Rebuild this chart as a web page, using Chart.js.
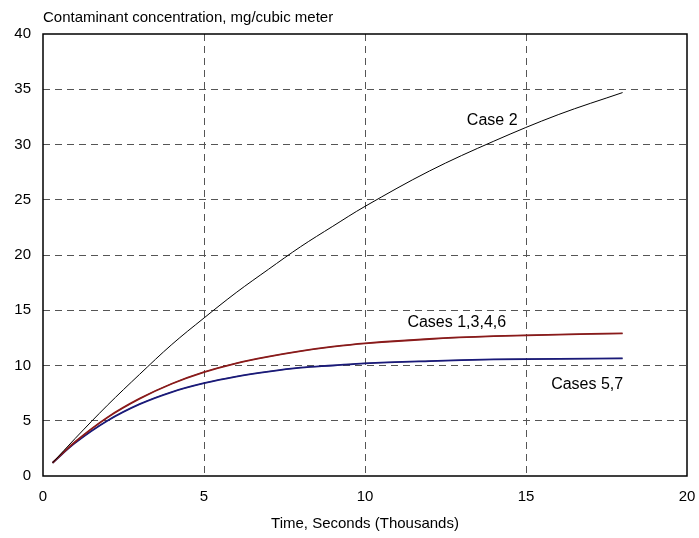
<!DOCTYPE html>
<html>
<head>
<meta charset="utf-8">
<script src="https://cdn.jsdelivr.net/npm/chart.js@4"></script>
<style>
  html, body { margin: 0; padding: 0; background: #fff; }
  #wrap { width: 699px; height: 538px; }
</style>
</head>
<body>
<div id="wrap"><canvas id="chart" width="699" height="538"></canvas></div>
<script>
// time, thousands of seconds
const times = [0.3, 1, 2, 3, 4, 5, 6, 7, 8, 9, 10, 12, 14, 16, 18];
// concentration, mg/cubic meter
const case2 = [1.2, 3.4, 6.4, 9.2, 11.9, 14.3, 16.6, 18.7, 20.75, 22.6, 24.4, 27.6, 30.3, 32.7, 34.7];
const cases1346 = [1.2, 3.1, 5.3, 7.0, 8.35, 9.4, 10.2, 10.8, 11.3, 11.7, 12.0, 12.4, 12.65, 12.8, 12.9];
const cases57 = [1.2, 3.0, 5.0, 6.5, 7.6, 8.4, 9.0, 9.45, 9.8, 10.0, 10.2, 10.4, 10.55, 10.6, 10.65];

const xTicks = [0, 5, 10, 15, 20];
const yTicks = [0, 5, 10, 15, 20, 25, 30, 35, 40];

const labels = [
  { text: 'Case 2', x: 13.95, y: 32.2 },
  { text: 'Cases 1,3,4,6', x: 12.85, y: 13.9 },
  { text: 'Cases 5,7', x: 16.9, y: 8.3 },
];

const toPoints = (vals) => vals.map((v, i) => ({ x: times[i], y: v }));
const font = '"Liberation Sans", Arial, sans-serif';

const decor = {
  id: 'decor',
  afterDraw(chart) {
    const { ctx, chartArea: a, scales } = chart;
    ctx.save();
    ctx.strokeStyle = '#000';
    ctx.lineWidth = 1.5;
    ctx.strokeRect(a.left, a.top, a.right - a.left, a.bottom - a.top);
    ctx.fillStyle = '#000';
    ctx.font = '15px ' + font;
    ctx.textAlign = 'left';
    ctx.textBaseline = 'middle';
    ctx.fillText('Contaminant concentration, mg/cubic meter', a.left, 18);
    ctx.font = '16px ' + font;
    ctx.textAlign = 'center';
    labels.forEach((l) => {
      ctx.fillText(l.text, scales.x.getPixelForValue(l.x), scales.y.getPixelForValue(l.y));
    });
    ctx.restore();
  },
};

new Chart(document.getElementById('chart'), {
  type: 'line',
  data: {
    datasets: [
      { data: toPoints(case2), borderColor: '#000', borderWidth: 1 },
      { data: toPoints(cases1346), borderColor: '#8b1a1a', borderWidth: 1.8 },
      { data: toPoints(cases1346), borderColor: '#000', borderWidth: 0.7 },
      { data: toPoints(cases57), borderColor: '#1a1a7a', borderWidth: 1.8 },
      { data: toPoints(cases57), borderColor: '#000', borderWidth: 0.7 },
    ],
  },
  options: {
    responsive: false,
    animation: false,
    layout: { padding: { top: 34, right: 12, left: 0, bottom: 0 } },
    elements: { point: { radius: 0 }, line: { tension: 0.35, fill: false } },
    plugins: { legend: { display: false }, tooltip: { enabled: false } },
    scales: {
      x: {
        type: 'linear',
        min: 0,
        max: 20,
        afterBuildTicks: (s) => { s.ticks = xTicks.map((v) => ({ value: v })); },
        afterFit: (s) => { s.height = 62; s.paddingRight = 0; s.paddingLeft = 0; },
        ticks: { color: '#000', font: { family: font, size: 15 }, padding: 12 },
        grid: {
          drawTicks: false,
          color: (c) => (c.tick && (c.tick.value === 0 || c.tick.value === 20) ? 'rgba(0,0,0,0)' : '#555'),
          lineWidth: 1,
        },
        border: { display: false, dash: [7, 5] },
        title: { display: true, text: 'Time, Seconds (Thousands)', color: '#000', font: { family: font, size: 15 }, padding: { top: 8, bottom: 5 } },
      },
      y: {
        min: 0,
        max: 40,
        afterBuildTicks: (s) => { s.ticks = yTicks.map((v) => ({ value: v })); },
        afterFit: (s) => { s.width = 43; },
        ticks: { color: '#000', font: { family: font, size: 15 }, padding: 12 },
        grid: {
          drawTicks: false,
          color: (c) => (c.tick && (c.tick.value === 0 || c.tick.value === 40) ? 'rgba(0,0,0,0)' : '#555'),
          lineWidth: 1,
        },
        border: { display: false, dash: [7, 5] },
      },
    },
  },
  plugins: [decor],
});
</script>
</body>
</html>
